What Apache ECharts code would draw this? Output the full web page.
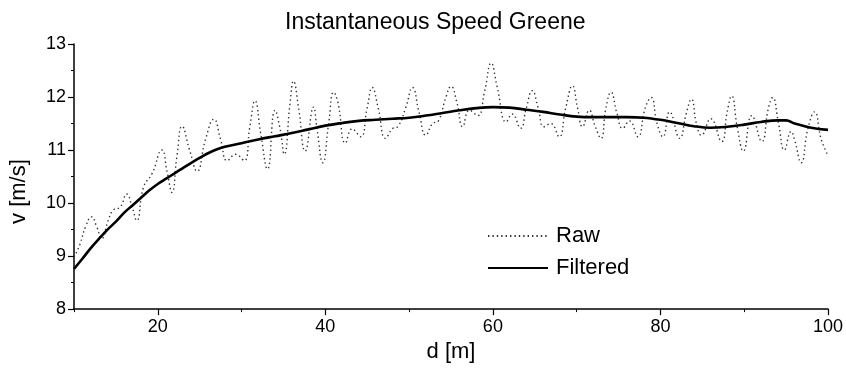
<!DOCTYPE html>
<html>
<head>
<meta charset="utf-8">
<script src="https://cdn.jsdelivr.net/npm/echarts@6/dist/echarts.min.js"></script>
<style>
html,body{margin:0;padding:0;background:#fff;}
#chart{width:846px;height:368px;}
</style>
</head>
<body>
<div id="chart"></div>
<script>
// ---- data ----
const rawDistance = [10.0,10.7,11.4,12.1,12.7,13.3,14.1,14.7,15.5,16.3,16.9,17.5,18.3,19.3,20.5,21.1,21.7,22.3,22.9,23.8,24.7,25.7,26.7,27.5,28.3,29.3,30.3,31.0,31.6,32.3,33.1,34.0,34.6,35.1,35.8,36.2,36.8,37.6,38.6,39.0,39.7,40.4,41.0,41.5,42.4,43.2,44.2,45.0,45.6,46.3,47.2,48.0,48.7,49.6,50.4,51.2,52.0,52.8,53.5,54.4,55.0,55.7,56.4,57.2,58.2,59.0,59.8,60.5,61.6,62.3,63.3,64.0,64.7,65.4,66.1,66.9,67.9,68.7,69.5,70.1,70.7,71.5,72.2,72.9,73.5,74.1,74.8,75.5,76.3,77.3,78.2,78.9,79.6,80.3,81.1,82.3,83.1,83.7,84.3,84.9,86.0,87.3,88.0,88.5,89.2,89.9,90.9,92.1,92.9,93.4,94.1,94.8,95.6,96.0,96.8,97.6,98.4,99.2,100.0];
const rawSpeed = [8.98,9.22,9.56,9.74,9.56,9.33,9.68,9.87,9.92,10.17,9.95,9.67,10.30,10.55,11.00,10.60,10.20,10.90,11.45,11.00,10.60,11.20,11.58,11.20,10.80,10.92,10.80,11.45,11.93,11.30,10.64,11.75,11.40,10.92,11.90,12.30,11.80,10.98,11.81,11.40,10.76,11.50,12.09,11.90,11.13,11.40,11.25,11.80,12.18,11.80,11.22,11.40,11.45,11.80,12.18,11.70,11.28,11.50,11.55,12.00,12.20,11.90,11.44,11.75,11.65,12.10,12.64,12.20,11.53,11.68,11.41,11.80,12.12,11.80,11.44,11.50,11.25,11.80,12.21,11.80,11.44,11.75,11.45,11.22,11.80,12.09,11.70,11.41,11.55,11.25,11.80,11.99,11.50,11.25,11.72,11.22,11.70,11.96,11.50,11.28,11.59,11.16,11.75,12.02,11.40,10.98,11.65,11.16,11.80,11.99,11.50,11.00,11.35,11.20,10.76,11.40,11.72,11.20,10.90];
const filteredDistance = [10,11,12,13,14,15,16,17,18,19,20,21,22,23,24,25,26,27,28,30,32,34,36,38,40,42,44,46,48,50,52,54,56,58,60,62,64,66,68,70,72,74,76,78,80,82,84,86,88,90,92,94,95,96,98,100];
const filteredSpeed = [8.76,8.95,9.15,9.33,9.50,9.65,9.82,9.96,10.10,10.24,10.36,10.46,10.56,10.66,10.76,10.85,10.94,11.01,11.06,11.13,11.20,11.26,11.32,11.39,11.46,11.51,11.55,11.57,11.59,11.61,11.65,11.70,11.75,11.79,11.81,11.80,11.76,11.72,11.67,11.63,11.62,11.62,11.62,11.61,11.57,11.51,11.45,11.42,11.44,11.48,11.53,11.56,11.56,11.50,11.42,11.38];
const xTickValues = [20,40,60,80,100];
const seriesNames = ['Raw','Filtered'];
const chartTitle = 'Instantaneous Speed Greene';
const xAxisName = 'd [m]';
const yAxisName = 'v [m/s]';

const FONT = "'Liberation Sans', Arial, sans-serif";
const rawPairs = rawDistance.map((d,i)=>[d, rawSpeed[i]]);
const filteredPairs = filteredDistance.map((d,i)=>[d, filteredSpeed[i]]);

const chart = echarts.init(document.getElementById('chart'), null, {renderer:'canvas'});
chart.setOption({
  backgroundColor:'#fff',
  animation:false,
  title:{
    text: chartTitle,
    left: 280, top: 6,
    textStyle:{fontFamily:FONT, fontSize:23, fontWeight:'normal', color:'#000'}
  },
  legend:{
    orient:'vertical',
    left: 487, top: 225, padding: 0,
    itemWidth: 60, itemHeight: 14, itemGap: 10,
    itemStyle:{opacity:0},
    textStyle:{fontFamily:FONT, fontSize:22, color:'#000', lineHeight:22, padding:[0,0,0,3]},
    data: seriesNames
  },
  grid:{left:74, right:18, top:44, bottom:54, containLabel:false},
  xAxis:[{
    type:'value', min:10, max:100, interval:10,
    name: xAxisName, nameLocation:'middle', nameGap:29,
    nameTextStyle:{fontFamily:FONT, fontSize:22, color:'#000'},
    axisLine:{show:true, lineStyle:{color:'#000', width:1.5}},
    axisTick:{show:true, length:6, lineStyle:{color:'#000', width:1.2}, customValues: xTickValues},
    axisLabel:{fontFamily:FONT, fontSize:18, color:'#000', margin:9, customValues: xTickValues},
    splitLine:{show:false}
  },{
    type:'value', min:10, max:100, interval:10, position:'bottom',
    axisLine:{show:false},
    axisTick:{show:true, length:3, lineStyle:{color:'#000', width:1}},
    axisLabel:{show:false},
    splitLine:{show:false}
  }],
  yAxis:{
    type:'value', min:8, max:13, interval:1,
    name: yAxisName, nameLocation:'middle', nameGap:44, nameRotate:90,
    nameTextStyle:{fontFamily:FONT, fontSize:22, color:'#000', padding:[0,30,0,0]},
    axisLine:{show:true, lineStyle:{color:'#000', width:1.5}},
    axisTick:{show:true, length:6, lineStyle:{color:'#000', width:1.2}},
    minorTick:{show:true, splitNumber:2, length:3, lineStyle:{color:'#000', width:1}},
    axisLabel:{fontFamily:FONT, fontSize:18, color:'#000', margin:8},
    splitLine:{show:false}
  },
  series:[{
    name: seriesNames[0], type:'line', data: rawPairs, xAxisIndex:0,
    smooth:0.5, showSymbol:false, symbol:'none',
    lineStyle:{color:'#333', width:1.4, type:[1.4,3]},
    itemStyle:{color:'#333'},
    z:2
  },{
    name: seriesNames[1], type:'line', data: filteredPairs, xAxisIndex:0,
    smooth:0.4, showSymbol:false, symbol:'none',
    lineStyle:{color:'#000', width:2.6},
    itemStyle:{color:'#000'},
    z:3
  }]
});
</script>
</body>
</html>
